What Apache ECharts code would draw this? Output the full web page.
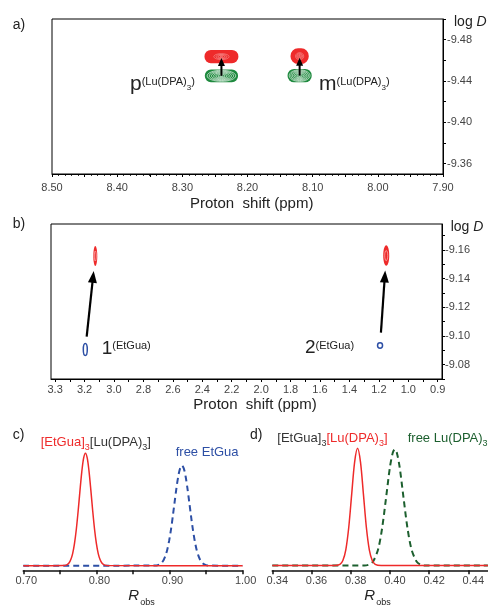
<!DOCTYPE html>
<html><head><meta charset="utf-8">
<script src="https://cdn.jsdelivr.net/npm/echarts@6/dist/echarts.min.js"></script>
<style>html,body{margin:0;padding:0;background:#fff}#c{width:488px;height:606px}</style>
</head><body><div id="c"></div>
<script>
// ---------- Panel a: DOSY peaks of Lu(DPA)3 (proton shift / ppm, log D) ----------
const aShiftPpm        = [8.240, 8.120];       // p, m
const aLogDComplex     = [-9.4636, -9.4640];   // [EtGua]3[Lu(DPA)3] (red)
const aLogDFree        = [-9.4450, -9.4452];   // free Lu(DPA)3 (green)
const aSpanComplexPpm  = [0.052, 0.028];
const aSpanComplexLogD = [0.0128, 0.0152];
const aSpanFreePpm     = [0.051, 0.037];
const aSpanFreeLogD    = [0.0124, 0.0130];
const aXTicks     = [8.50, 8.40, 8.30, 8.20, 8.10, 8.00, 7.90];
const aXTickMarks = [8.50, 8.45, 8.40, 8.35, 8.30, 8.25, 8.20, 8.15, 8.10, 8.05, 8.00, 7.95, 7.90];
const aYTicks     = [-9.48, -9.44, -9.40, -9.36];
const aYTickMarks = [-9.50, -9.48, -9.46, -9.44, -9.42, -9.40, -9.38, -9.36];

// ---------- Panel b: DOSY peaks of EtGua ----------
const bShiftComplex    = [3.127, 1.150];       // 1, 2 (red)
const bLogDComplex     = [-9.1557, -9.1560];
const bShiftFree       = [3.195, 1.192];       // 1, 2 (blue)
const bLogDFree        = [-9.0906, -9.0933];
const bSpanComplexPpm  = [0.027, 0.041];
const bSpanComplexLogD = [0.0140, 0.0143];
const bSpanFreePpm     = [0.027, 0.034];
const bSpanFreeLogD    = [0.0084, 0.0038];
const bXTickPos    = [3.4, 3.2, 3.0, 2.8, 2.6, 2.4, 2.2, 2.0, 1.8, 1.6, 1.4, 1.2, 1.0, 0.8];
const bXTickLabels = ['3.3','3.2','3.0','2.8','2.6','2.4','2.2','2.0','1.8','1.6','1.4','1.2','1.0','0.9'];
const bXTickMarks  = [3.4,3.3,3.2,3.1,3.0,2.9,2.8,2.7,2.6,2.5,2.4,2.3,2.2,2.1,2.0,1.9,1.8,1.7,1.6,1.5,1.4,1.3,1.2,1.1,1.0,0.9,0.8];
const bYTicks      = [-9.16, -9.14, -9.12, -9.10, -9.08];
const bYTickMarks  = [-9.17,-9.16,-9.15,-9.14,-9.13,-9.12,-9.11,-9.10,-9.09,-9.08,-9.07];

// ---------- Panel c: R_obs distributions (EtGua) ----------
const cRobsComplex = [0.70,0.755,0.760,0.7625,0.765,0.7675,0.770,0.7725,0.775,0.7775,0.780,0.7825,0.785,0.7875,0.790,0.7925,0.795,0.7975,0.800,0.8025,0.805,0.8075,0.810,0.815,1.00];
const cDistComplex = [0,0.002,0.011,0.025,0.055,0.108,0.196,0.322,0.484,0.665,0.834,0.956,1.000,0.956,0.834,0.665,0.484,0.322,0.196,0.108,0.055,0.025,0.011,0.002,0];
const cRobsFree = [0.70,0.882,0.887,0.8895,0.892,0.8945,0.897,0.8995,0.902,0.9045,0.907,0.9095,0.912,0.9145,0.917,0.9195,0.922,0.9245,0.927,0.9295,0.932,0.9345,0.937,0.9395,0.942,0.9445,0.947,0.952,1.00];
const cDistFree = [0,0.003,0.015,0.029,0.052,0.090,0.145,0.222,0.321,0.438,0.566,0.690,0.795,0.865,0.890,0.865,0.795,0.690,0.566,0.438,0.321,0.222,0.145,0.090,0.052,0.029,0.015,0.003,0];
const cXTicks     = [0.70, 0.80, 0.90, 1.00];
const cXTickMarks = [0.70, 0.75, 0.80, 0.85, 0.90, 0.95, 1.00];

// ---------- Panel d: R_obs distributions (Lu(DPA)3) ----------
const dRobsComplex = [0.34,0.3715,0.3745,0.376,0.3775,0.379,0.3805,0.382,0.3835,0.385,0.3865,0.388,0.3895,0.391,0.3925,0.3955,0.45];
const dDistComplex = [0,0.001,0.011,0.044,0.135,0.325,0.607,0.882,1.000,0.882,0.607,0.325,0.135,0.044,0.011,0.001,0];
const dRobsFree = [0.34,0.387,0.3895,0.3915,0.394,0.396,0.398,0.400,0.4015,0.4025,0.4035,0.405,0.407,0.409,0.411,0.4135,0.4155,0.418,0.45];
const dDistFree = [0,0.001,0.010,0.038,0.140,0.316,0.572,0.836,0.964,0.990,0.964,0.836,0.572,0.316,0.140,0.038,0.010,0.001,0];
const dXTicks = [0.34, 0.36, 0.38, 0.40, 0.42, 0.44];

// ---------- styles ----------
const FONT = "'Liberation Sans', Arial, Helvetica, sans-serif";
const NARROW = "'Liberation Sans Narrow', 'Arial Narrow', 'Liberation Sans', sans-serif";
const INK = '#222';
const LAB = '#444';
const RED = '#ee2a2a';
const GREEN = '#1f8a3f';
const BLUE = '#2d4fa5';
const DGREEN = '#1c5f2e';

const zip4 = (a, b, c, d) => a.map((v, i) => [v, b[i], c[i], d[i]]);
const zip2 = (a, b) => a.map((v, i) => [v, b[i]]);
const fmt2 = v => (+v).toFixed(2);

function contourItem(opts) {
  return function (params, api) {
    const c = api.coord([api.value(0), api.value(1)]);
    const s = api.size([api.value(2), api.value(3)]);
    const w = Math.abs(s[0]), h = Math.abs(s[1]);
    const ch = [];
    if (opts.fill) {
      if (opts.rect) {
        ch.push({type: 'rect', shape: {x: c[0] - w / 2, y: c[1] - h / 2, width: w, height: h, r: Math.min(w, h) * 0.48},
                 style: {fill: opts.fill}});
      } else {
        ch.push({type: 'ellipse', shape: {cx: c[0], cy: c[1], rx: w / 2, ry: h / 2}, style: {fill: opts.fill}});
      }
    }
    if (opts.outline) {
      ch.push({type: 'ellipse', shape: {cx: c[0], cy: c[1], rx: w / 2, ry: h / 2},
               style: {fill: 'none', stroke: opts.outline, lineWidth: opts.outlineWidth}});
    }
    (opts.levels || []).forEach(f => {
      ch.push({type: 'ellipse', shape: {cx: c[0], cy: c[1], rx: w * f / 2, ry: h * f / 2},
               style: {fill: 'none', stroke: opts.ring, lineWidth: opts.ringWidth, opacity: opts.ringOpacity || 1}});
    });
    return {type: 'group', children: ch};
  };
}

function arrowItem(startGap, endGap, headLen, headHalf, lw) {
  return function (params, api) {
    const p1 = api.coord([api.value(0), api.value(1)]);
    const p2 = api.coord([api.value(2), api.value(3)]);
    let dx = p2[0] - p1[0], dy = p2[1] - p1[1];
    const L = Math.hypot(dx, dy); dx /= L; dy /= L;
    const s = [p1[0] + dx * startGap, p1[1] + dy * startGap];
    const t = [p2[0] - dx * endGap, p2[1] - dy * endGap];
    const b = [t[0] - dx * headLen, t[1] - dy * headLen];
    const nx = -dy, ny = dx;
    return {type: 'group', children: [
      {type: 'line', shape: {x1: s[0], y1: s[1], x2: b[0] + dx, y2: b[1] + dy}, style: {stroke: '#000', lineWidth: lw}},
      {type: 'polygon', shape: {points: [t, [b[0] + nx * headHalf, b[1] + ny * headHalf], [b[0] - nx * headHalf, b[1] - ny * headHalf]]},
       style: {fill: '#000'}}
    ]};
  };
}

function boxX(grid, min, max, marks, labels, labelFmt, font, margin, extra) {
  return Object.assign({
    gridIndex: grid, type: 'value', min: min, max: max, inverse: true, position: 'bottom',
    axisLine: {show: true, onZero: false, lineStyle: {color: '#000', width: 1}},
    axisTick: {show: true, inside: false, length: 3, customValues: marks, lineStyle: {color: '#000', width: 1}},
    axisLabel: {customValues: labels, formatter: labelFmt, margin: margin, fontSize: 11, color: LAB, fontFamily: font},
    splitLine: {show: false}
  }, extra || {});
}
function boxY(grid, min, max, marks, labels, margin) {
  return {
    gridIndex: grid, type: 'value', min: min, max: max, inverse: true, position: 'right',
    axisLine: {show: true, onZero: false, lineStyle: {color: '#000', width: 1}},
    axisTick: {show: true, inside: false, length: 3, customValues: marks, lineStyle: {color: '#000', width: 1}},
    axisLabel: {customValues: labels, formatter: fmt2, margin: margin, fontSize: 11, color: LAB, fontFamily: FONT},
    splitLine: {show: false}
  };
}
function plainX(grid, min, max, marks, labels, pad) {
  return {
    gridIndex: grid, type: 'value', min: min, max: max, position: 'bottom',
    axisLine: {show: true, onZero: false, lineStyle: {color: '#111', width: 1.6}},
    axisTick: {show: true, inside: false, length: 4, customValues: marks, lineStyle: {color: '#111', width: 1.5}},
    axisLabel: {customValues: labels, formatter: fmt2, margin: 5, fontSize: 11, color: LAB, fontFamily: FONT, padding: [0, 0, 0, pad]},
    splitLine: {show: false}
  };
}

const bLabelFmt = v => {
  const i = bXTickPos.findIndex(p => Math.abs(p - v) < 1e-6);
  return i >= 0 ? bXTickLabels[i] : '';
};

function txt(x, y, text, rich, extra) {
  return Object.assign({type: 'text', x: x, y: y, silent: true,
    style: {text: text, rich: rich, align: 'left', textAlign: 'left', verticalAlign: 'middle', textVerticalAlign: 'middle',
            fontFamily: FONT, fontSize: 13, fill: INK}}, extra || {});
}
const tok = (size, fill, more) => Object.assign({fontSize: size, fill: fill, fontFamily: FONT}, more || {});

const peakRich = {
  b: tok(21, INK, {lineHeight: 26}),
  s: tok(11, INK, {lineHeight: 12, verticalAlign: 'top', padding: [5, 0, 0, 0]}),
  u: tok(8, INK, {lineHeight: 8, verticalAlign: 'top', padding: [12, 0, 0, 0]})
};
const guaRich = {
  b: tok(19, INK, {lineHeight: 24}),
  s: tok(11, INK, {lineHeight: 12, verticalAlign: 'top', padding: [4, 0, 0, 0]})
};
const legRich = {
  r: tok(13, RED, {lineHeight: 20}),
  rs: tok(9, RED, {lineHeight: 9, verticalAlign: 'top', padding: [11, 0, 0, 0]}),
  k: tok(13, '#333', {lineHeight: 20}),
  ks: tok(9, '#333', {lineHeight: 9, verticalAlign: 'top', padding: [11, 0, 0, 0]}),
  g: tok(13, DGREEN, {lineHeight: 20}),
  gs: tok(9, DGREEN, {lineHeight: 9, verticalAlign: 'top', padding: [11, 0, 0, 0]}),
  bl: tok(13, BLUE, {lineHeight: 20})
};
const logDRich = {n: tok(14, INK, {lineHeight: 18}), i: tok(14, INK, {lineHeight: 18, fontStyle: 'italic'})};
const robsRich = {R: tok(15, INK, {lineHeight: 22, fontStyle: 'italic'}), o: tok(9, INK, {lineHeight: 8, verticalAlign: 'top', padding: [13, 0, 0, 1]})};

const chart = echarts.init(document.getElementById('c'), null, {renderer: 'canvas'});
chart.setOption({
  animation: false,
  backgroundColor: '#fff',
  textStyle: {fontFamily: FONT},
  grid: [
    {left: 52, top: 19, width: 391, height: 155, show: true, borderColor: '#000', borderWidth: 1},
    {left: 51, top: 224, width: 391, height: 155, show: true, borderColor: '#000', borderWidth: 1},
    {left: 23.3, top: 447.5, width: 219.3, height: 122.8},
    {left: 272.3, top: 442.4, width: 215.6, height: 127.9}
  ],
  xAxis: [
    boxX(0, 7.90, 8.50, aXTickMarks, aXTicks, fmt2, NARROW, 8,
         {interval: 0.1, minorTick: {show: true, splitNumber: 10, length: 2, lineStyle: {color: '#000', width: 0.8}}, minorSplitLine: {show: false}}),
    boxX(1, 0.771, 3.428, bXTickMarks, bXTickPos, bLabelFmt, FONT, 5),
    plainX(2, 0.70, 1.00, cXTickMarks, cXTicks, 6),
    plainX(3, 0.34, 0.45, dXTicks, dXTicks, 10)
  ],
  yAxis: [
    boxY(0, -9.50, -9.35, aYTickMarks, aYTicks, 4),
    boxY(1, -9.178, -9.07, bYTickMarks, bYTicks, 3),
    {gridIndex: 2, type: 'value', min: -0.04, max: 1.05, show: false},
    {gridIndex: 3, type: 'value', min: -0.04, max: 1.05, show: false}
  ],
  series: [
    // panel a contours
    {type: 'custom', name: 'free Lu(DPA)3', xAxisIndex: 0, yAxisIndex: 0, clip: false,
     encode: {x: 0, y: 1}, data: zip4(aShiftPpm, aLogDFree, aSpanFreePpm, aSpanFreeLogD),
     renderItem: contourItem({fill: GREEN, rect: true, levels: [0.86, 0.73, 0.6, 0.47, 0.34, 0.21, 0.09], ring: '#fff', ringWidth: 0.7, ringOpacity: 0.9})},
    {type: 'custom', name: '[EtGua]3[Lu(DPA)3]', xAxisIndex: 0, yAxisIndex: 0, clip: false,
     encode: {x: 0, y: 1}, data: zip4(aShiftPpm, aLogDComplex, aSpanComplexPpm, aSpanComplexLogD),
     renderItem: contourItem({fill: RED, rect: true, levels: [0.45, 0.32, 0.2, 0.08], ring: '#fff', ringWidth: 0.5, ringOpacity: 0.6})},
    {type: 'custom', name: 'arrows a', xAxisIndex: 0, yAxisIndex: 0, clip: false,
     encode: {x: [0, 2], y: [1, 3]},
     data: aShiftPpm.map((x, i) => [x, aLogDFree[i], x, aLogDComplex[i]]),
     renderItem: arrowItem(0, 1.5, 8, 3.5, 2)},
    // panel b contours
    {type: 'custom', name: 'free EtGua', xAxisIndex: 1, yAxisIndex: 1, clip: false,
     encode: {x: 0, y: 1}, data: zip4(bShiftFree, bLogDFree, bSpanFreePpm, bSpanFreeLogD),
     renderItem: contourItem({outline: BLUE, outlineWidth: 1.5})},
    {type: 'custom', name: 'complex EtGua', xAxisIndex: 1, yAxisIndex: 1, clip: false,
     encode: {x: 0, y: 1}, data: zip4(bShiftComplex, bLogDComplex, bSpanComplexPpm, bSpanComplexLogD),
     renderItem: contourItem({fill: RED, levels: [0.5], ring: '#fff', ringWidth: 0.6, ringOpacity: 0.8})},
    {type: 'custom', name: 'arrows b', xAxisIndex: 1, yAxisIndex: 1, clip: false,
     encode: {x: [0, 2], y: [1, 3]},
     data: bShiftFree.map((x, i) => [x, bLogDFree[i], bShiftComplex[i], bLogDComplex[i]]),
     renderItem: arrowItem(13, 15, 12, 4.5, 2.2)},
    // panel c
    {type: 'line', xAxisIndex: 2, yAxisIndex: 2, data: zip2(cRobsFree, cDistFree), showSymbol: false, smooth: 0.3,
     lineStyle: {color: BLUE, width: 2, type: [6, 4]}, z: 2},
    {type: 'line', xAxisIndex: 2, yAxisIndex: 2, data: zip2(cRobsComplex, cDistComplex), showSymbol: false, smooth: 0.3,
     lineStyle: {color: RED, width: 1.5}, z: 3},
    // panel d
    {type: 'line', xAxisIndex: 3, yAxisIndex: 3, data: zip2(dRobsFree, dDistFree), showSymbol: false, smooth: 0.3,
     lineStyle: {color: DGREEN, width: 2, type: [6, 4]}, z: 2},
    {type: 'line', xAxisIndex: 3, yAxisIndex: 3, data: zip2(dRobsComplex, dDistComplex), showSymbol: false, smooth: 0.3,
     lineStyle: {color: RED, width: 1.5}, z: 3}
  ],
  graphic: [
    txt(12.7, 25, 'a)', null, {style: {text: 'a)', fontSize: 14, fontFamily: FONT, fill: INK, verticalAlign: 'middle', textVerticalAlign: 'middle'}}),
    txt(12.7, 224, 'b)', null, {style: {text: 'b)', fontSize: 14, fontFamily: FONT, fill: INK, verticalAlign: 'middle', textVerticalAlign: 'middle'}}),
    txt(12.7, 434.7, 'c)', null, {style: {text: 'c)', fontSize: 14, fontFamily: FONT, fill: INK, verticalAlign: 'middle', textVerticalAlign: 'middle'}}),
    txt(250, 434.7, 'd)', null, {style: {text: 'd)', fontSize: 14, fontFamily: FONT, fill: INK, verticalAlign: 'middle', textVerticalAlign: 'middle'}}),
    txt(454, 22, '{n|log }{i|D}', logDRich),
    txt(450.7, 227.5, '{n|log }{i|D}', logDRich),
    txt(130, 84.7, '{b|p}{s|(Lu(DPA)}{u|3}{s|)}', peakRich),
    txt(319, 84.7, '{b|m}{s|(Lu(DPA)}{u|3}{s|)}', peakRich),
    txt(101.7, 348.4, '{b|1}{s|(EtGua)}', guaRich),
    txt(305, 348, '{b|2}{s|(EtGua)}', guaRich),
    {type: 'text', x: 251.7, y: 204, silent: true, style: {text: 'Proton  shift (ppm)', fontSize: 15, fontFamily: FONT, fill: INK, align: 'center', textAlign: 'center', verticalAlign: 'middle', textVerticalAlign: 'middle'}},
    {type: 'text', x: 255, y: 405, silent: true, style: {text: 'Proton  shift (ppm)', fontSize: 15, fontFamily: FONT, fill: INK, align: 'center', textAlign: 'center', verticalAlign: 'middle', textVerticalAlign: 'middle'}},
    txt(40.7, 442, '{r|[EtGua]}{rs|3}{k|[Lu(DPA)}{ks|3}{k|]}', legRich),
    txt(175.7, 452.3, '{bl|free EtGua}', legRich),
    txt(277.3, 438.3, '{k|[EtGua]}{ks|3}{r|[Lu(DPA)}{rs|3}{r|]}', legRich),
    txt(407.7, 438.3, '{g|free Lu(DPA)}{gs|3}', legRich),
    txt(128.3, 596, '{R|R}{o|obs}', robsRich),
    txt(364.3, 596, '{R|R}{o|obs}', robsRich)
  ]
});
</script>
</body></html>
